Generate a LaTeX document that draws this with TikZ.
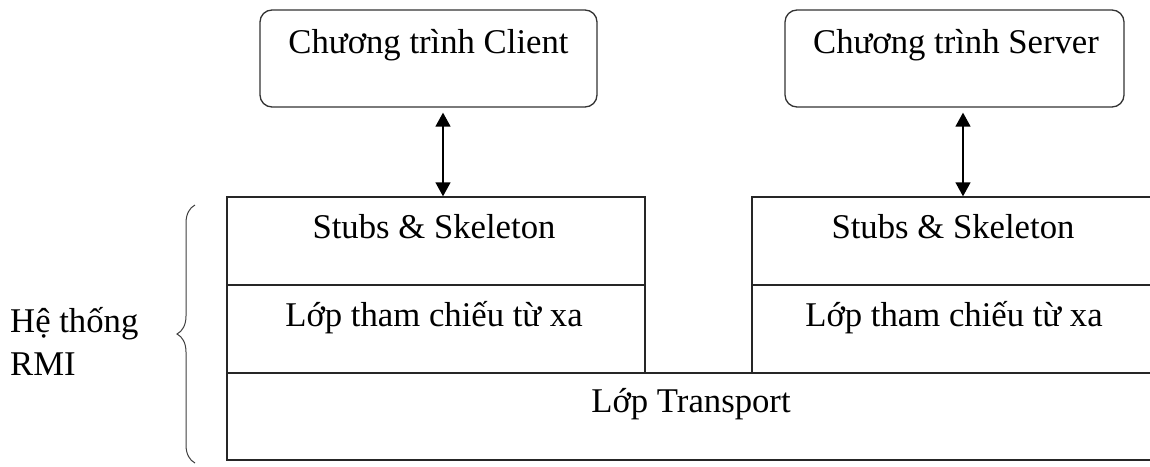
\documentclass[tikz,border=0pt]{standalone}
\usepackage{fontspec}
\setmainfont{Liberation Serif}
\usetikzlibrary{arrows.meta,decorations.pathreplacing}

\tikzset{
  prog/.style={draw=black!80, line width=1.3pt, rounded corners=12pt, inner sep=0pt},
  layer/.style={draw=black!85, line width=1.4pt, inner sep=0pt},
  txt/.style={font=\fontsize{34.7}{42}\selectfont, inner sep=0pt},
  link/.style={line width=1.4pt, {Triangle[length=14pt,width=15pt]}-{Triangle[length=14pt,width=15pt]}, shorten <=5pt},
  bracepath/.style={draw=black!75, line width=1pt, decorate, decoration={brace, amplitude=18pt, aspect=0.5}}
}

\begin{document}
\begin{tikzpicture}[x=1pt, y=-1pt]
  \useasboundingbox (0,0) rectangle (1150,466);
  \clip (0,0) rectangle (1150,466);
  \fill[white] (0,0) rectangle (1150,466);

  % application programs
  \node[prog, minimum width=337pt, minimum height=97pt] (client) at (428.5,58.5) {};
  \node[prog, minimum width=339pt, minimum height=97pt] (server) at (954.5,58.5) {};
  \node[txt, anchor=base] (clientT) at (428.5,53) {Chương trình Client};
  \node[txt, anchor=base] (serverT) at (956,53) {Chương trình Server};

  % RMI layers, client side
  \node[layer, minimum width=418pt, minimum height=88pt] (stubL) at (436,241) {};
  \node[layer, minimum width=418pt, minimum height=88pt] (refL) at (436,329) {};
  % RMI layers, server side (running on past the right edge)
  \node[layer, minimum width=418pt, minimum height=88pt] (stubR) at (961,241) {};
  \node[layer, minimum width=418pt, minimum height=88pt] (refR) at (961,329) {};
  % shared transport layer
  \node[layer, minimum width=940pt, minimum height=87pt] (transport) at (697,416.5) {};

  \node[txt, anchor=base] (stubLT) at (434,238) {Stubs \& Skeleton};
  \node[txt, anchor=base] (refLT) at (434,326) {Lớp tham chiếu từ xa};
  \node[txt, anchor=base] (stubRT) at (953,238) {Stubs \& Skeleton};
  \node[txt, anchor=base] (refRT) at (954,326) {Lớp tham chiếu từ xa};
  \node[txt, anchor=base] (transportT) at (691,412) {Lớp Transport};

  % calls between programs and stubs
  \coordinate (ca) at ([xshift=14.5pt]client.south);
  \coordinate (sa) at ([xshift=8.5pt]server.south);
  \draw[link] (ca) -- (ca |- stubL.north);
  \draw[link] (sa) -- (sa |- stubR.north);

  % brace grouping the RMI system
  \coordinate (bb) at (195,463);
  \coordinate (bt) at (195,205);
  \draw[bracepath] (bb) -- (bt);
  \node[txt, anchor=base west] (sysA) at (10,332) {Hệ thống};
  \node[txt, anchor=base west] (sysB) at (10,375) {RMI};
\end{tikzpicture}
\end{document}
